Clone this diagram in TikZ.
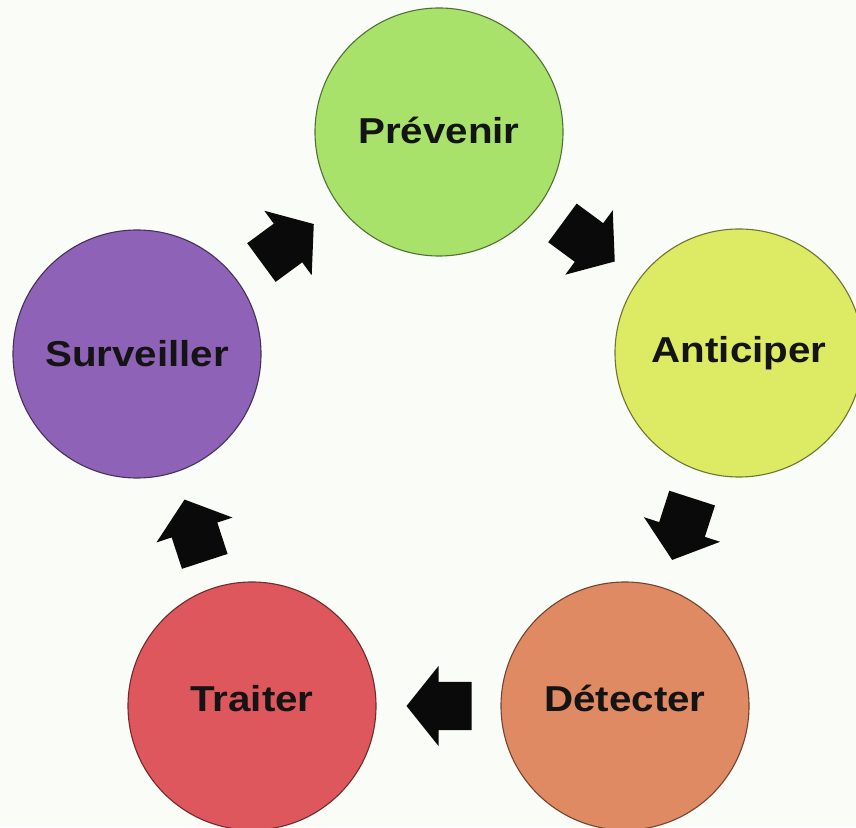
\documentclass[tikz,border=0pt]{standalone}
\usepackage{fontspec}
\setmainfont{Liberation Sans}[FakeStretch=1.12]
\usetikzlibrary{calc}
\definecolor{bg}{RGB}{250,252,247}
\definecolor{cprev}{RGB}{168,226,106}
\definecolor{cant}{RGB}{221,234,99}
\definecolor{cdet}{RGB}{224,138,99}
\definecolor{ctra}{RGB}{221,87,93}
\definecolor{csurv}{RGB}{142,98,182}
\tikzset{
  stage/.style={circle, minimum size=248pt, inner sep=0pt, line width=1.1pt,
    text=black!92, font=\fontsize{36}{42}\selectfont\bfseries},
  blockarr/.style={fill=black!96, draw=none},
}
\newcommand\cyclearrow[2]{%
  \path[blockarr] let \p1=($(#2.center)-(#1.center)$),
    \p2=($(#1.center)!0.5!(#2.center)$), \n1={atan2(\y1,\x1)} in
    [shift={(\p2)}, rotate=\n1]
    (-33,-24) -- (0,-24) -- (0,-40) -- (32,0) -- (0,40) -- (0,24) -- (-33,24) -- cycle;}
\begin{document}
\begin{tikzpicture}[x=1pt,y=1pt]
  \useasboundingbox (0,0) rectangle (856,827);
  \fill[bg] (0,0) rectangle (856,827);
  \clip (0,0) rectangle (856,827);
  \node[stage, fill=cprev, draw=cprev!50!black] (prev) at (439,695) {\raisebox{4pt}{Prévenir}};
  \node[stage, fill=cant, draw=cant!50!black] (ant) at (739,474) {Anticiper};
  \node[stage, fill=cdet, draw=cdet!50!black] (det) at (625,121) {\raisebox{16pt}{Détecter}};
  \node[stage, fill=ctra, draw=ctra!50!black] (tra) at (252,121) {\raisebox{16pt}{Traiter}};
  \node[stage, fill=csurv, draw=csurv!50!black] (surv) at (137,473) {Surveiller};
  \cyclearrow{surv}{prev}
  \cyclearrow{prev}{ant}
  \cyclearrow{ant}{det}
  \cyclearrow{det}{tra}
  \cyclearrow{tra}{surv}
\end{tikzpicture}
\end{document}
